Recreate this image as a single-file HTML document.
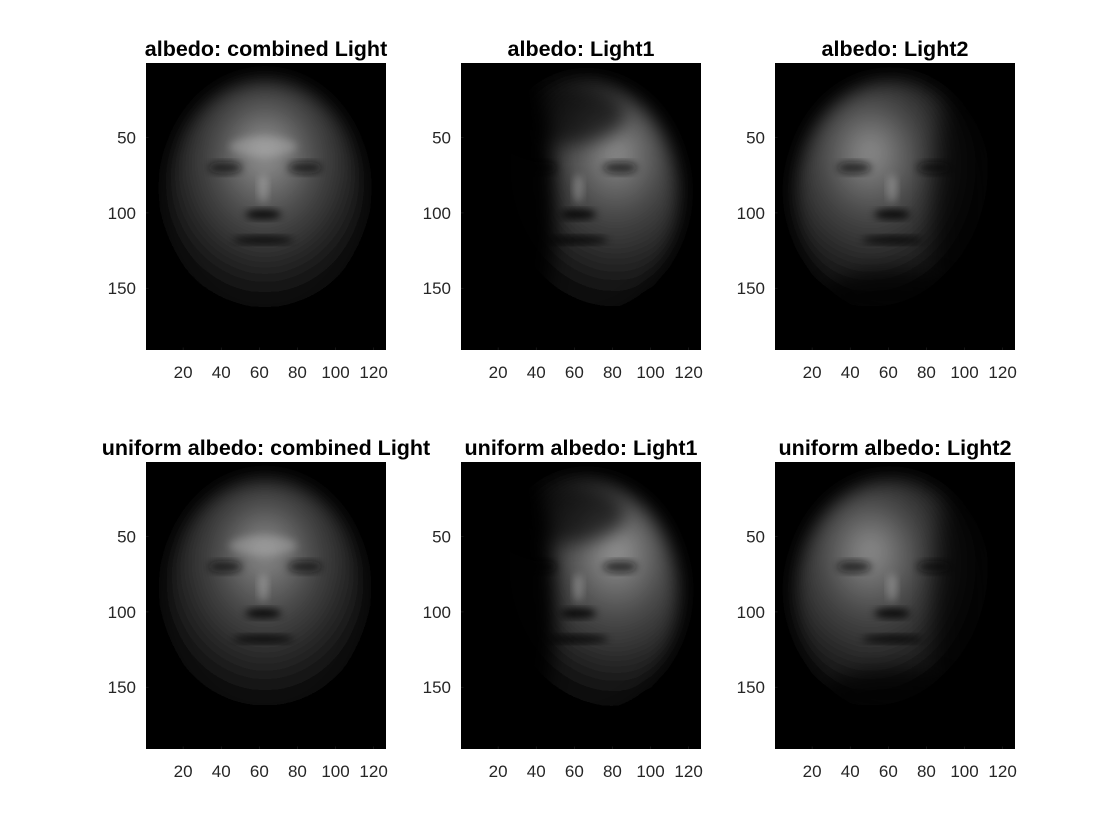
<!DOCTYPE html>
<html><head><meta charset="utf-8">
<style>
html,body{margin:0;padding:0;background:#fff;width:1120px;height:840px;overflow:hidden;font-family:"Liberation Sans",Arial,sans-serif;}
svg{position:absolute;left:0;top:0;}
</style></head>
<body>
<svg id="fig" width="1120" height="840" viewBox="0 0 1120 840" xmlns="http://www.w3.org/2000/svg">
<defs>
<filter id="blur4" x="-30%" y="-30%" width="160%" height="160%"><feGaussianBlur stdDeviation="4"/></filter>
<filter id="blur8" x="-30%" y="-30%" width="160%" height="160%"><feGaussianBlur stdDeviation="9"/></filter>
<filter id="blur12" x="-30%" y="-30%" width="160%" height="160%"><feGaussianBlur stdDeviation="12"/></filter>
</defs>
</svg>
<script>
// subplot data
const titles = ["albedo: combined Light","albedo: Light1","albedo: Light2",
  "uniform albedo: combined Light","uniform albedo: Light1","uniform albedo: Light2"];
const xTicks = [20,40,60,80,100,120];
const yTicks = [50,100,150];
const xDomain = [0.5,126.5];
const yDomain = [0.5,191];
// light: 0 combined, 1 from viewer-right, 2 from viewer-left
const lightModes = [0,1,2,0,1,2];
const brightness = [0.8,0.75,0.75,0.75,0.8,0.75];

const NS="http://www.w3.org/2000/svg";
const svg=document.getElementById('fig');
const defs=svg.querySelector('defs');
const colX=[146,461,775], rowY=[63,462], AW=240, AH=287;

function mk(tag,attrs,parent){const e=document.createElementNS(NS,tag);for(const k in attrs)e.setAttribute(k,attrs[k]);(parent||svg).appendChild(e);return e;}

titles.forEach((t,i)=>{
  const ax=colX[i%3], ay=rowY[Math.floor(i/3)];
  const sx=v=>ax+(v-xDomain[0])/(xDomain[1]-xDomain[0])*AW;
  const sy=v=>ay+(v-yDomain[0])/(yDomain[1]-yDomain[0])*AH;
  const g=mk('g',{});
  
  
  const clipId='clip'+i;
  const cp=mk('clipPath',{id:clipId},defs); mk('rect',{x:ax,y:ay,width:AW,height:AH},cp);
  const bg=mk('rect',{x:ax,y:ay,width:AW,height:AH,fill:'#000'},g);
  
  
  const face=mk('g',{'clip-path':'url(#'+clipId+')'},g);
  
  
  const mode=lightModes[i], b=brightness[i];
  const cx=sx(63);
  const gid='fg'+i;
  const fxs=[0.5,0.68,0.38][mode];
  const rg=mk('radialGradient',{id:gid,cx:fxs,cy:0.38,r:0.62,fx:fxs,fy:0.3},defs);
  const c1=Math.round(190*b), c2=Math.round(95*b), c3=Math.round(30*b);
  mk('stop',{offset:'0',"stop-color":`rgb(${c1},${c1},${c1})`},rg);
  mk('stop',{offset:'0.4',"stop-color":`rgb(${c2},${c2},${c2})`},rg);
  mk('stop',{offset:'0.8',"stop-color":`rgb(${c3},${c3},${c3})`},rg);
  mk('stop',{offset:'1',"stop-color":'#000'},rg);
  const rx=(sx(116)-sx(12))/2, ry=(sy(168)-sy(12))/2;
  mk('ellipse',{cx:cx,cy:sy(90),rx:rx,ry:ry,fill:'url(#'+gid+')',filter:'url(#blur8)'},face);
  const d='#111';
  mk('ellipse',{cx:sx(42),cy:sy(70),rx:17,ry:6,fill:d,opacity:0.7,filter:'url(#blur4)'},face);
  mk('ellipse',{cx:sx(84),cy:sy(70),rx:17,ry:6,fill:d,opacity:0.7,filter:'url(#blur4)'},face);
  mk('ellipse',{cx:sx(62),cy:sy(101),rx:18,ry:5,fill:'#000',opacity:0.85,filter:'url(#blur4)'},face);
  mk('ellipse',{cx:sx(62),cy:sy(118),rx:30,ry:4,fill:'#000',opacity:0.8,filter:'url(#blur4)'},face);
  mk('ellipse',{cx:sx(62),cy:sy(84),rx:5,ry:14,fill:'#ddd',opacity:0.3,filter:'url(#blur4)'},face);
  if(mode===1){
    mk('ellipse',{cx:sx(28),cy:sy(95),rx:42,ry:140,fill:'#000',opacity:0.95,filter:'url(#blur8)'},face);
    mk('ellipse',{cx:sx(55),cy:sy(35),rx:60,ry:30,fill:'#000',opacity:0.6,filter:'url(#blur8)'},face);
  } else if(mode===2){
    mk('ellipse',{cx:sx(102),cy:sy(100),rx:35,ry:140,fill:'#000',opacity:0.7,filter:'url(#blur12)'},face);
    mk('ellipse',{cx:sx(62),cy:sy(155),rx:70,ry:25,fill:'#000',opacity:0.7,filter:'url(#blur8)'},face);
  } else {
    mk('ellipse',{cx:sx(62),cy:sy(56),rx:34,ry:10,fill:'#ccc',opacity:0.3,filter:'url(#blur4)'},face);
  }
  xTicks.forEach(v=>{
    mk('line',{x1:sx(v),x2:sx(v),y1:ay+AH,y2:ay+AH-2.5,stroke:'#262626','stroke-width':0.6},g);
    const tx=mk('text',{x:sx(v),y:ay+AH+28,'text-anchor':'middle','font-size':17,fill:'#262626'},g);
    tx.textContent=v;
    
    
  });
  yTicks.forEach(v=>{
    mk('line',{x1:ax,x2:ax+2.5,y1:sy(v),y2:sy(v),stroke:'#262626','stroke-width':0.6},g);
    const tx=mk('text',{x:ax-10,y:sy(v)+6,'text-anchor':'end','font-size':17,fill:'#262626'},g);
    tx.textContent=v;
    
    
  });
  const tt=mk('text',{x:ax+AW/2,y:ay-7,'text-anchor':'middle','font-size':21.5,'font-weight':'bold',fill:'#000'},g);
  tt.textContent=t;
  
  
});
</script>
</body></html>
